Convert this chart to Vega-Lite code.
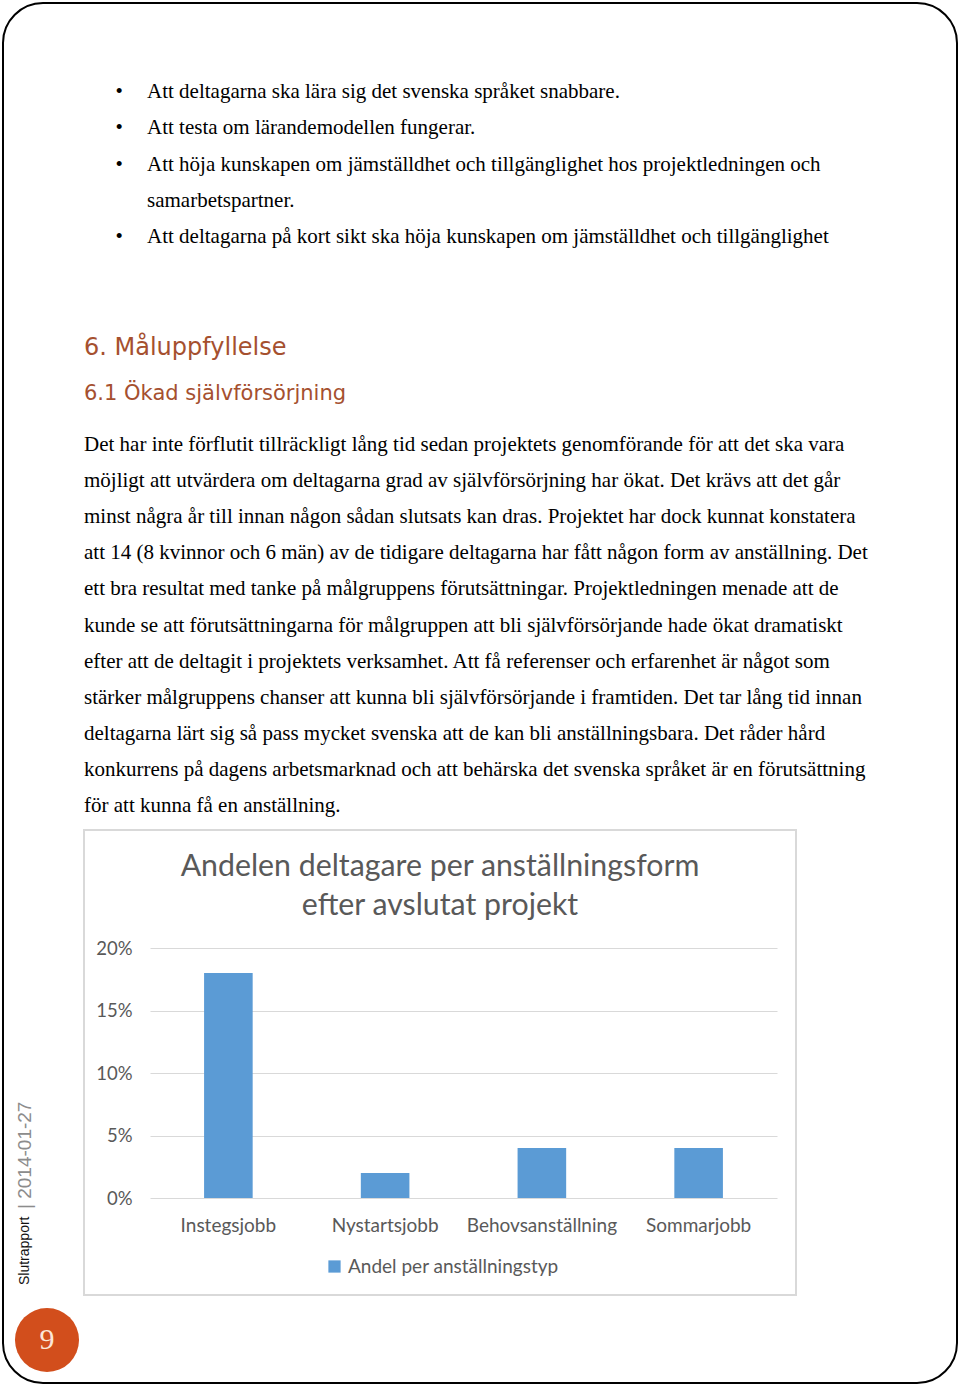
{
  "$schema": "https://vega.github.io/schema/vega-lite/v6.json",
  "width": 954,
  "height": 1380,
  "padding": 3,
  "autosize": {"type": "none"},
  "background": "white",
  "config": {
    "view": {"stroke": "#000000", "strokeWidth": 2, "cornerRadius": 40, "fill": "white"},
    "axis": {"labelFont": "Lato", "labelColor": "#595959"}
  },
  "layer": [
    {
      "layer": [
        {
          "data": {"values": [
            {"line": 1, "col": "bullet", "content": "•"},
            {"line": 1, "col": "text", "content": "Att deltagarna ska lära sig det svenska språket snabbare."},
            {"line": 2, "col": "bullet", "content": "•"},
            {"line": 2, "col": "text", "content": "Att testa om lärandemodellen fungerar."},
            {"line": 3, "col": "bullet", "content": "•"},
            {"line": 3, "col": "text", "content": "Att höja kunskapen om jämställdhet och tillgänglighet hos projektledningen och"},
            {"line": 4, "col": "text", "content": "samarbetspartner."},
            {"line": 5, "col": "bullet", "content": "•"},
            {"line": 5, "col": "text", "content": "Att deltagarna på kort sikt ska höja kunskapen om jämställdhet och tillgänglighet"}
          ]},
          "mark": {"type": "text", "align": "left", "baseline": "middle", "font": "Liberation Serif", "fontSize": 21, "color": "#000000"},
          "encoding": {
            "x": {"field": "col", "type": "nominal", "scale": {"type": "point", "domain": ["margin", "bullet", "text"], "range": [81, 144], "padding": 0}, "axis": null},
            "y": {"field": "line", "type": "ordinal", "scale": {"type": "point", "range": [89, 234], "padding": 0}, "axis": null},
            "text": {"field": "content"}
          }
        },
        {
          "data": {"values": [
            {"level": "h1", "col": "margin", "content": "6. Måluppfyllelse"},
            {"level": "h2", "col": "margin", "content": "6.1 Ökad självförsörjning"}
          ]},
          "mark": {"type": "text", "align": "left", "baseline": "middle", "font": "DejaVu Sans", "color": "#A5502F"},
          "encoding": {
            "x": {"field": "col", "type": "nominal", "scale": {"type": "point", "domain": ["margin", "bullet", "text"], "range": [81, 144], "padding": 0}, "axis": null},
            "y": {"field": "level", "type": "ordinal", "scale": {"type": "point", "range": [345, 391], "padding": 0}, "axis": null},
            "size": {"field": "level", "type": "ordinal", "scale": {"domain": ["h1", "h2"], "range": [24, 21]}, "legend": null},
            "text": {"field": "content"}
          }
        },
        {
          "data": {"values": [
            {"line": 1, "col": "margin", "content": "Det har inte förflutit tillräckligt lång tid sedan projektets genomförande för att det ska vara"},
            {"line": 2, "col": "margin", "content": "möjligt att utvärdera om deltagarna grad av självförsörjning har ökat. Det krävs att det går"},
            {"line": 3, "col": "margin", "content": "minst några år till innan någon sådan slutsats kan dras. Projektet har dock kunnat konstatera"},
            {"line": 4, "col": "margin", "content": "att 14 (8 kvinnor och 6 män) av de tidigare deltagarna har fått någon form av anställning. Det"},
            {"line": 5, "col": "margin", "content": "ett bra resultat med tanke på målgruppens förutsättningar. Projektledningen menade att de"},
            {"line": 6, "col": "margin", "content": "kunde se att förutsättningarna för målgruppen att bli självförsörjande hade ökat dramatiskt"},
            {"line": 7, "col": "margin", "content": "efter att de deltagit i projektets verksamhet. Att få referenser och erfarenhet är något som"},
            {"line": 8, "col": "margin", "content": "stärker målgruppens chanser att kunna bli självförsörjande i framtiden. Det tar lång tid innan"},
            {"line": 9, "col": "margin", "content": "deltagarna lärt sig så pass mycket svenska att de kan bli anställningsbara. Det råder hård"},
            {"line": 10, "col": "margin", "content": "konkurrens på dagens arbetsmarknad och att behärska det svenska språket är en förutsättning"},
            {"line": 11, "col": "margin", "content": "för att kunna få en anställning."}
          ]},
          "mark": {"type": "text", "align": "left", "baseline": "middle", "font": "Liberation Serif", "fontSize": 21, "color": "#000000"},
          "encoding": {
            "x": {"field": "col", "type": "nominal", "scale": {"type": "point", "domain": ["margin", "bullet", "text"], "range": [81, 144], "padding": 0}, "axis": null},
            "y": {"field": "line", "type": "ordinal", "scale": {"type": "point", "range": [442, 803], "padding": 0}, "axis": null},
            "text": {"field": "content"}
          }
        }
      ],
      "resolve": {"scale": {"y": "independent", "size": "independent"}}
    },
    {
      "layer": [
        {
          "data": {"values": [{"k": "diagram"}]},
          "mark": {"type": "rect", "fillOpacity": 0, "stroke": "#D9D9D9", "strokeWidth": 2},
          "encoding": {
            "x": {"field": "k", "type": "nominal", "scale": {"type": "band", "range": [81, 793], "paddingInner": 0, "paddingOuter": 0}, "axis": null},
            "y": {"field": "k", "type": "nominal", "scale": {"type": "band", "range": [827, 1292], "paddingInner": 0, "paddingOuter": 0}, "axis": null}
          }
        },
        {
          "data": {"values": [
            {"k": "diagram", "line": 1, "content": "Andelen deltagare per anställningsform"},
            {"k": "diagram", "line": 2, "content": "efter avslutat projekt"}
          ]},
          "mark": {"type": "text", "align": "center", "baseline": "middle", "font": "Lato", "fontSize": 30.3, "color": "#595959"},
          "encoding": {
            "x": {"field": "k", "type": "nominal", "scale": {"type": "band", "range": [81, 793], "paddingInner": 0, "paddingOuter": 0}, "axis": null},
            "y": {"field": "line", "type": "ordinal", "scale": {"type": "point", "range": [864, 903], "padding": 0}, "axis": null},
            "text": {"field": "content"}
          }
        }
      ],
      "resolve": {"scale": {"y": "independent"}}
    },
    {
      "data": {"values": [
        {"typ": "Instegsjobb", "andel": 0.18, "serie": "Andel per anställningstyp"},
        {"typ": "Nystartsjobb", "andel": 0.02, "serie": "Andel per anställningstyp"},
        {"typ": "Behovsanställning", "andel": 0.04, "serie": "Andel per anställningstyp"},
        {"typ": "Sommarjobb", "andel": 0.04, "serie": "Andel per anställningstyp"}
      ]},
      "mark": {"type": "bar"},
      "encoding": {
        "x": {
          "field": "typ", "type": "nominal", "sort": null,
          "scale": {"domain": ["Instegsjobb", "Nystartsjobb", "Behovsanställning", "Sommarjobb"], "range": [147, 774], "paddingInner": 0.69, "paddingOuter": 0.345},
          "axis": {"orient": "bottom", "offset": -185, "title": null, "domain": false, "ticks": false, "tickSize": 0, "labelPadding": 18, "labelAngle": 0, "labelFontSize": 19, "labelOverlap": false, "labelLimit": 400, "grid": false}
        },
        "y": {
          "field": "andel", "type": "quantitative",
          "scale": {"domain": [0, 0.2], "range": [1195, 945], "nice": false, "zero": true},
          "axis": {"orient": "left", "offset": -147, "title": null, "values": [0, 0.05, 0.1, 0.15, 0.2], "format": ".0%", "domain": false, "ticks": false, "tickSize": 0, "labelPadding": 18, "labelFontSize": 18.5, "grid": true, "gridColor": "#D9D9D9", "gridWidth": 1.2}
        },
        "color": {
          "field": "serie", "type": "nominal",
          "scale": {"range": ["#5B9BD5"]},
          "legend": {"orient": "none", "legendX": 322, "legendY": 1254, "title": null, "symbolType": "square", "symbolSize": 150, "symbolStrokeWidth": 0, "labelFont": "Lato", "labelFontSize": 19, "labelColor": "#595959", "labelLimit": 400, "padding": 0, "labelOffset": 4}
        }
      }
    },
    {
      "layer": [
        {
          "data": {"values": [{"item": "sida", "label": "9"}]},
          "mark": {"type": "point", "filled": true, "size": 4100, "color": "#D24E1C", "opacity": 1, "shape": "circle"},
          "encoding": {
            "x": {"field": "item", "type": "nominal", "scale": {"type": "point", "range": [44, 44]}, "axis": null},
            "y": {"field": "item", "type": "nominal", "scale": {"type": "point", "range": [1337, 1337]}, "axis": null}
          }
        },
        {
          "data": {"values": [{"item": "sida", "label": "9"}]},
          "mark": {"type": "text", "align": "center", "baseline": "middle", "font": "Liberation Serif", "fontSize": 30, "color": "#FBE6D8"},
          "encoding": {
            "x": {"field": "item", "type": "nominal", "scale": {"type": "point", "range": [44, 44]}, "axis": null},
            "y": {"field": "item", "type": "nominal", "scale": {"type": "point", "range": [1337, 1337]}, "axis": null},
            "text": {"field": "label"}
          }
        }
      ]
    },
    {
      "data": {"values": [
        {"part": "titel", "content": "Slutrapport"},
        {"part": "datum", "content": "|   2014-01-27"}
      ]},
      "mark": {"type": "text", "angle": 270, "align": "left", "baseline": "middle", "font": "Liberation Sans"},
      "encoding": {
        "x": {"field": "part", "type": "nominal", "scale": {"type": "point", "range": [22, 22]}, "axis": null},
        "y": {"field": "part", "type": "nominal", "sort": null, "scale": {"type": "point", "domain": ["titel", "datum"], "range": [1282, 1206], "padding": 0}, "axis": null},
        "color": {"field": "part", "type": "nominal", "scale": {"domain": ["titel", "datum"], "range": ["#111111", "#8C8C8C"]}, "legend": null},
        "size": {"field": "part", "type": "nominal", "scale": {"domain": ["titel", "datum"], "range": [14, 19]}, "legend": null},
        "text": {"field": "content"}
      }
    }
  ],
  "resolve": {"scale": {"x": "independent", "y": "independent", "color": "independent", "size": "independent"}}
}
